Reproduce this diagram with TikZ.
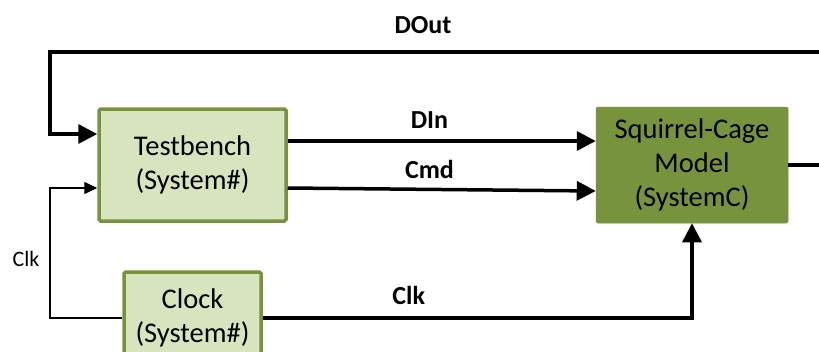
\documentclass[tikz,border=0pt]{standalone}
\usepackage{fontspec}
\setmainfont{Carlito}
\usetikzlibrary{arrows.meta,positioning}

\definecolor{leaf}{HTML}{77933C}
\definecolor{leaflight}{HTML}{D7E4BD}

\begin{document}
\begin{tikzpicture}[x=1pt,y=-1pt,
    block/.style={draw=leaf, line width=3.5pt, fill=leaflight, rounded corners=1.5pt,
        align=center, inner sep=0pt, font=\fontsize{28.5}{34}\selectfont},
    core/.style={block, fill=leaf, line width=0.5pt},
    bus/.style={line width=3.5pt, -{Triangle[length=19pt,width=19pt]}},
    wire/.style={line width=1.3pt, -{Triangle[length=13pt,width=12pt]}},
    sig/.style={font=\bfseries\fontsize{26}{30}\selectfont}]
    \clip (0,0) rectangle (819,351);
    \useasboundingbox (0,0) rectangle (819,351);

    % blocks
    \node[block, minimum width=187pt, minimum height=112pt] (tb) at (192.5,165) {Testbench\\(System\#)};
    \node[core, minimum width=192pt, minimum height=116pt] (mdl) at (692,165) {Squirrel-Cage\\Model\\(SystemC)};
    \node[block, minimum width=137pt, minimum height=92pt] (clk) at (192.5,318) {Clock\\(System\#)};

    % turning points of the loops
    \coordinate (outR) at (840,165);
    \coordinate (topL) at (50,52);

    % data and commands
    \draw[bus] ([yshift=24pt]tb.east) -- ([yshift=24pt]mdl.west) node[sig, pos=0.46, above=7pt] {DIn};
    \draw[bus] ([yshift=-23pt]tb.east) -- ([yshift=-26pt]mdl.west) node[sig, pos=0.46, above=6pt] {Cmd};

    % output back to the testbench
    \draw[bus] (mdl.east) -- (outR) |- (topL) |- ([yshift=31pt]tb.west);
    \node[sig] (dout) at (423,25) {DOut};

    % clock lines
    \draw[bus] (clk.east) -| (mdl.south) node[sig, pos=0.17, above=8pt] {Clk};
    \draw[wire] (clk.west) -| (50,250) |- ([yshift=-23pt]tb.west);
    \node[font=\fontsize{22}{26}\selectfont] (clklbl) at (26,259) {Clk};
\end{tikzpicture}
\end{document}
